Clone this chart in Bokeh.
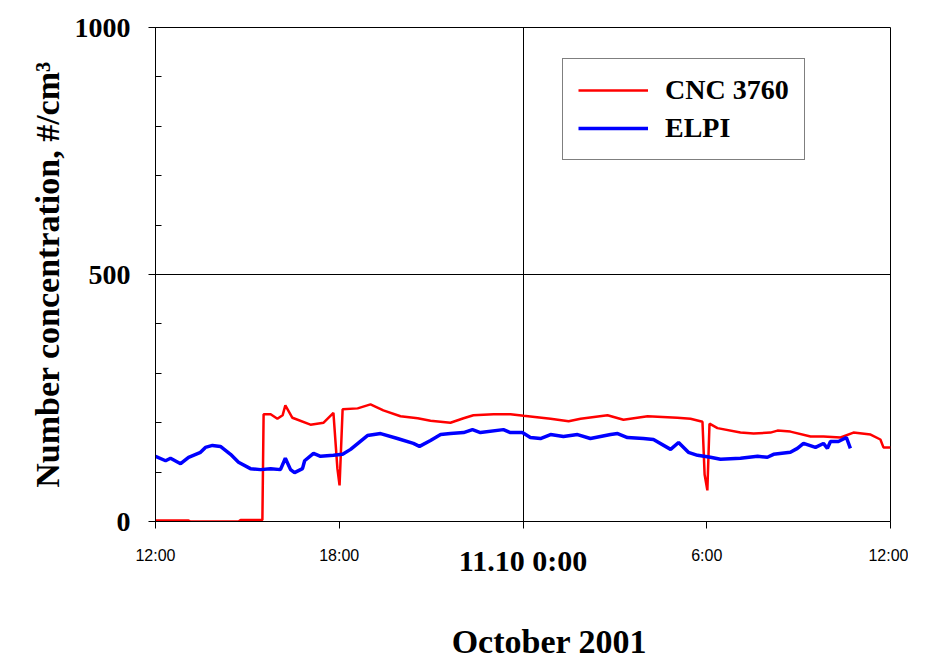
from bokeh.plotting import figure
from bokeh.models import (Range1d, FixedTicker, SingleIntervalTicker, Legend, LegendItem,
                          LinearAxis)
from bokeh.embed import file_html
from bokeh.resources import INLINE

# hours after 12:00 on 9 Oct 2001
cnc_hours = [0.0, 1.08, 1.14, 2.71, 2.78, 3.49, 3.53, 3.76, 3.98, 4.15, 4.24, 4.47, 5.06, 5.49,
             5.81, 5.94, 6.01, 6.11, 6.60, 7.02, 7.44, 8.00, 8.56, 8.98, 9.63, 10.06, 10.38,
             11.04, 11.59, 12.02, 12.90, 13.49, 13.88, 14.76, 15.28, 16.07, 17.04, 17.47,
             17.86, 17.93, 18.02, 18.09, 18.35, 19.10, 19.53, 20.08, 20.31, 20.73, 21.39,
             21.81, 22.37, 22.79, 23.35, 23.67, 23.77, 24.0]
cnc_values = [2, 2, 0, 0, 3, 3, 217, 217, 208, 215, 235, 210, 196, 200,
              220, 107, 73, 227, 229, 237, 225, 213, 209, 204, 200, 209, 215,
              217, 217, 214, 208, 203, 208, 215, 206, 213, 210, 208,
              202, 95, 63, 198, 189, 180, 178, 180, 184, 182, 172,
              172, 170, 180, 176, 166, 150, 150]

elpi_hours = [0.0, 0.33, 0.49, 0.82, 1.08, 1.47, 1.63, 1.86, 2.12, 2.45, 2.71, 3.10, 3.43,
              3.76, 4.08, 4.24, 4.41, 4.54, 4.80, 4.87, 5.16, 5.39, 5.81, 6.11, 6.37, 6.92,
              7.35, 7.90, 8.42, 8.62, 8.98, 9.31, 9.63, 10.06, 10.35, 10.61, 11.36, 11.59,
              11.98, 12.24, 12.57, 12.90, 13.32, 13.78, 14.20, 14.86, 15.09, 15.41, 15.93,
              16.26, 16.82, 17.08, 17.40, 17.70, 18.12, 18.45, 19.10, 19.66, 19.98, 20.18,
              20.73, 20.96, 21.16, 21.55, 21.81, 21.94, 22.04, 22.30, 22.43, 22.56, 22.69]
elpi_values = [132, 123, 128, 117, 130, 140, 150, 154, 152, 136, 120, 107, 105,
               107, 105, 128, 105, 99, 107, 123, 138, 132, 134, 136, 146, 174,
               178, 168, 158, 152, 164, 176, 178, 180, 186, 180, 186, 180,
               180, 170, 168, 176, 172, 176, 168, 176, 178, 170, 168,
               166, 146, 160, 140, 134, 130, 126, 128, 132, 130, 136,
               140, 148, 158, 150, 158, 148, 162, 162, 166, 170, 148]

tick_positions = [0, 6, 12, 18, 24]
tick_labels = ["12:00", "18:00", "", "6:00", "12:00"]
series_names = ["CNC 3760", "ELPI"]
date_caption = "October  2001"
DATE_CAPTION_X = 13.0  # horizontal anchor (hours) of the date caption under the axis

p = figure(width=908, height=663, output_backend="svg", toolbar_location=None,
           x_range=Range1d(0, 24), y_range=Range1d(0, 1000),
           min_border_left=155, min_border_right=18, min_border_top=27, min_border_bottom=142)
p.outline_line_color = "black"
p.outline_line_width = 1
p.background_fill_color = "white"
p.border_fill_color = "white"

r1 = p.line(cnc_hours, cnc_values, line_color="#ff0000", line_width=2.5)
r2 = p.line(elpi_hours, elpi_values, line_color="#0000ff", line_width=3.5)

# grids
p.xgrid.ticker = FixedTicker(ticks=[12])
p.ygrid.ticker = FixedTicker(ticks=[500])
for g in (p.xgrid[0], p.ygrid[0]):
    g.grid_line_color = "black"
    g.grid_line_width = 1
    g.grid_line_alpha = 1.0

# y axis
ya = p.yaxis[0]
ya.ticker = SingleIntervalTicker(interval=500, num_minor_ticks=5)
ya.axis_line_color = "black"
ya.major_tick_line_color = "black"
ya.minor_tick_line_color = "black"
ya.major_tick_out = 7
ya.major_tick_in = 0
ya.minor_tick_in = 6
ya.minor_tick_out = 0
ya.major_label_text_color = "black"
ya.major_label_text_font = "Liberation Serif"
ya.major_label_text_font_style = "bold"
ya.major_label_text_font_size = "28px"
ya.major_label_standoff = 18
ya.axis_label = "Number concentration, #/cm\u00b3"
ya.axis_label_text_color = "black"
ya.axis_label_text_font = "Liberation Serif"
ya.axis_label_text_font_style = "bold"
ya.axis_label_text_font_size = "34px"
ya.axis_label_standoff = 6

# x axis
xa = p.xaxis[0]
xa.ticker = FixedTicker(ticks=tick_positions)
xa.major_label_overrides = {t: l for t, l in zip(tick_positions, tick_labels)}
xa.axis_line_color = "black"
xa.major_tick_line_color = "black"
xa.major_tick_out = 7
xa.major_tick_in = 0
xa.minor_tick_out = 0
xa.minor_tick_in = 0
xa.major_label_text_color = "black"
xa.major_label_text_font = "Liberation Sans"
xa.major_label_text_font_size = "16px"
xa.major_label_standoff = 18
xa.axis_label = "11.10 0:00"
xa.axis_label_text_color = "black"
xa.axis_label_text_font = "Liberation Serif"
xa.axis_label_text_font_style = "bold"
xa.axis_label_text_font_size = "30px"
xa.axis_label_standoff = -23

# second (caption-only) axis below carrying the date caption
cap = LinearAxis(ticker=FixedTicker(ticks=[DATE_CAPTION_X]),
                 major_label_overrides={DATE_CAPTION_X: date_caption})
cap.axis_line_color = None
cap.major_tick_line_color = None
cap.minor_tick_line_color = None
cap.major_tick_out = 0
cap.major_tick_in = 0
cap.minor_tick_out = 0
cap.minor_tick_in = 0
cap.major_label_text_color = "black"
cap.major_label_text_font = "Liberation Serif"
cap.major_label_text_font_style = "bold"
cap.major_label_text_font_size = "34px"
cap.major_label_standoff = 43
p.add_layout(cap, "below")

legend = Legend(items=[LegendItem(label=series_names[0], renderers=[r1]),
                       LegendItem(label=series_names[1], renderers=[r2])],
                location=(407, 361))
legend.border_line_color = "black"
legend.border_line_width = 1
legend.background_fill_color = "white"
legend.background_fill_alpha = 1.0
legend.label_text_color = "black"
legend.label_text_font = "Liberation Serif"
legend.label_text_font_style = "bold"
legend.label_text_font_size = "28px"
legend.glyph_width = 70
legend.glyph_height = 30
legend.label_height = 30
legend.label_standoff = 17
legend.spacing = 6
legend.padding = 15
legend.margin = 0
p.add_layout(legend, "center")

open("out.html", "w").write(file_html(p, INLINE))
